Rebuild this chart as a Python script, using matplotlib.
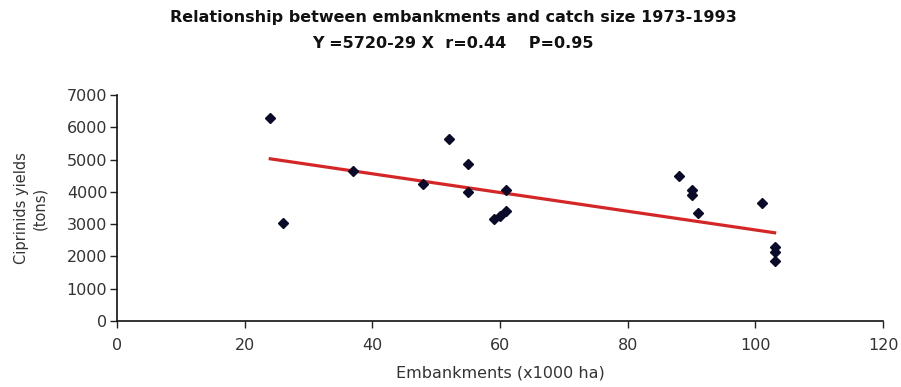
import matplotlib
matplotlib.use("Agg")
import matplotlib.pyplot as plt
import numpy as np

# embankments (x1000 ha) vs ciprinids catch (tons)
embankments = [24, 26, 37, 48, 52, 55, 55, 59, 60, 61, 61, 88, 90, 90, 91, 101, 103, 103, 103]
yields = [6300, 3050, 4650, 4250, 5650, 4850, 4000, 3150, 3250, 3400, 4050, 4500, 4050, 3900, 3350, 3650, 2300, 2150, 1850]

# regression from the title: Y = 5720 - 29 X
intercept = 5720
slope = -29

xticks = [0, 20, 40, 60, 80, 100, 120]
yticks = [0, 1000, 2000, 3000, 4000, 5000, 6000, 7000]

plt.rcParams['font.family'] = ['DejaVu Sans']

fig = plt.figure(figsize=(9.01, 3.87), dpi=100)
ax = fig.add_axes([0.1299, 0.1705, 0.8502, 0.584])

x = np.array(embankments)
y = np.array(yields)
xl = np.array([x.min(), x.max()])
ax.plot(xl, intercept + slope * xl, color='#d42626', lw=2.3, zorder=2)
ax.plot(x, y, 'D', color='#0a0a2a', markersize=5.5, zorder=3)

ax.set_xlim(0, 120)
ax.set_ylim(0, 7000)
ax.set_xticks(xticks)
ax.set_yticks(yticks)
ax.tick_params(labelsize=11.5, length=5, width=1, colors='#222222', labelcolor='#333333', pad=2)
ax.tick_params(axis='x', pad=7)
for s in ['top', 'right']:
    ax.spines[s].set_visible(False)
for s in ['left', 'bottom']:
    ax.spines[s].set_linewidth(1.2)
    ax.spines[s].set_color('#111111')

ax.set_xlabel('Embankments (x1000 ha)', fontsize=11.5, color='#333333', labelpad=9)
ax.set_ylabel('Ciprinids yields\n(tons)', fontsize=10.5, color='#333333', labelpad=14, linespacing=1.25)

fig.text(0.503, 0.955, 'Relationship between embankments and catch size 1973-1993',
         ha='center', va='center', fontsize=11.5, fontweight='bold', color='#111111')
fig.text(0.503, 0.888, 'Y =5720-29 X  r=0.44    P=0.95',
         ha='center', va='center', fontsize=11.5, fontweight='bold', color='#111111')

fig.savefig('out.png', dpi=100)
